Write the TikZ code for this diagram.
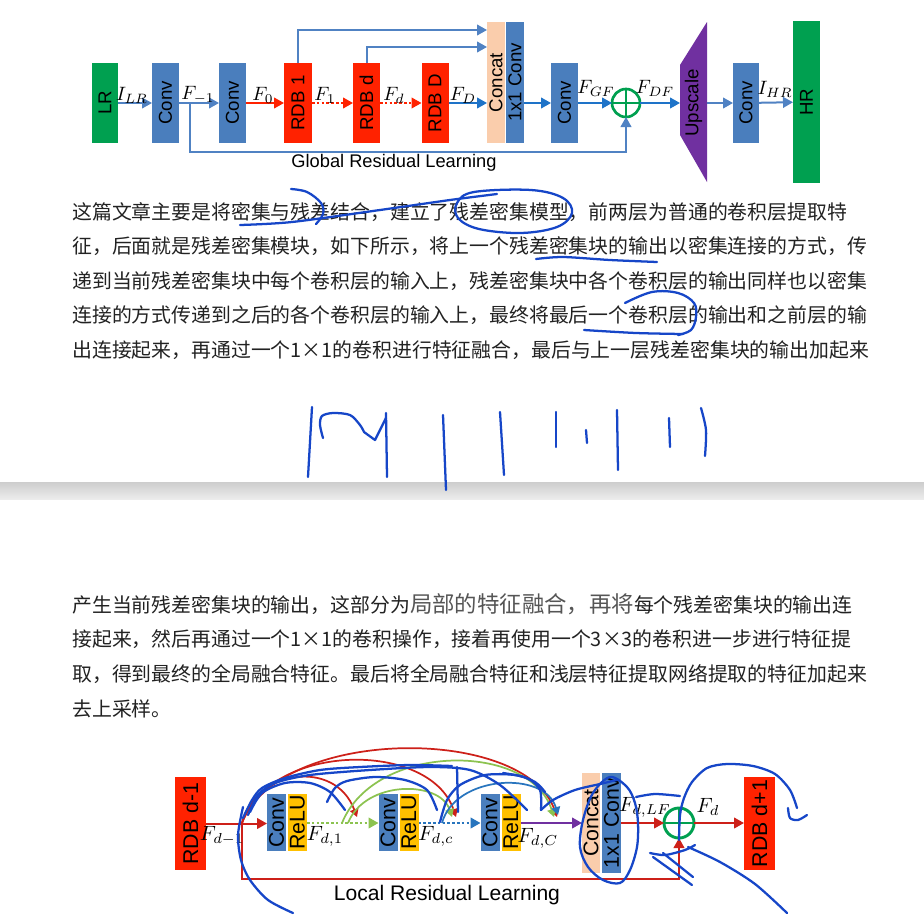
\documentclass[tikz,border=0pt]{standalone}
\usepackage{fontspec}
\usepackage{graphicx}
\setmainfont{Liberation Sans}
\newfontfamily\cjk{Noto Sans CJK SC}
\usetikzlibrary{arrows.meta,calc}
\newdimen\pxu \pxu=0.75pt
\definecolor{boxblue}{RGB}{74,126,189}
\definecolor{arrblue}{RGB}{80,130,195}
\definecolor{brblue}{RGB}{30,115,200}
\definecolor{tred}{RGB}{255,34,0}
\definecolor{bred}{RGB}{205,32,25}
\definecolor{grn}{RGB}{0,160,80}
\definecolor{peach}{RGB}{250,205,172}
\definecolor{purp}{RGB}{112,48,160}
\definecolor{ylw}{RGB}{255,192,0}
\definecolor{lgrn}{RGB}{140,195,80}
\definecolor{dblue}{RGB}{40,117,190}
\definecolor{inkc}{RGB}{22,70,200}
\definecolor{txt}{RGB}{34,34,34}
\definecolor{txtg}{RGB}{85,85,85}
\definecolor{barA}{RGB}{205,205,205}
\definecolor{barB}{RGB}{236,236,236}
\tikzset{
  blk/.style={rectangle, inner sep=0pt, outer sep=0pt, draw=none, text=black},
  sz/.style 2 args={minimum width=#1\pxu, minimum height=#2\pxu},
  arw/.style={-{Triangle[length=7.5pt,width=8pt]}, line width=1.5pt},
  arws/.style={-{Triangle[length=6pt,width=6.5pt]}, line width=1.3pt},
  lbl/.style={inner sep=0pt, scale=1.45},
  lblb/.style={inner sep=0pt, scale=1.55},
  tline/.style={anchor=west, inner sep=0pt, text=txt, font=\cjk\fontsize{14.9}{18}\selectfont},
  inkst/.style={draw=inkc, line width=1.7pt, line cap=round, line join=round},
  dots/.style={dash pattern=on 2pt off 1.6pt},
  tf/.style={font=\fontsize{14}{14}\selectfont},
  bf/.style={font=\fontsize{16}{16}\selectfont}
}
\begin{document}
\begin{tikzpicture}[x=0.75pt,y=-0.75pt]
\fill[white] (0,0) rectangle (924,914);
\path[use as bounding box] (0,0) rectangle (924,914);
% separator bar
\shade[top color=barA, bottom color=barB] (0,482) rectangle (924,499);

% ================= top diagram =================
\node[blk, fill=grn, sz={26}{80}, tf] (lr) at (105,103) {\rotatebox{90}{LR}};
\node[blk, fill=boxblue, sz={27}{80}, tf] (conv1) at (165.5,103) {\rotatebox{90}{Conv}};
\node[blk, fill=boxblue, sz={27}{80}, tf] (conv2) at (232.5,103) {\rotatebox{90}{Conv}};
\node[blk, fill=tred, sz={28}{80}, tf] (rdb1) at (298,103) {\rotatebox{90}{RDB 1}};
\node[blk, fill=tred, sz={27}{80}, tf] (rdbd) at (366.5,103) {\rotatebox{90}{RDB d}};
\node[blk, fill=tred, sz={27}{80}, tf] (rdbD) at (435,103) {\rotatebox{90}{RDB D}};
\node[blk, fill=peach, sz={18}{121}, tf] (concat) at (496,82.5) {\rotatebox{90}{Concat}};
\node[blk, fill=boxblue, sz={18}{121}, tf] (cv11) at (515,82.5) {\rotatebox{90}{1x1 Conv}};
\node[blk, fill=boxblue, sz={27}{80}, tf] (conv3) at (564.5,103) {\rotatebox{90}{Conv}};
\node[circle, draw=grn, line width=2pt, inner sep=0pt, outer sep=0pt, minimum size=28\pxu] (plus) at (626,103) {};
\draw[grn, line width=2pt] (plus.north) -- (plus.south) (plus.west) -- (plus.east);
\fill[purp] (680,65) -- (707,22) -- (707,182) -- (680,135) -- cycle;
\node[blk, tf] (ups) at (693.5,103) {\rotatebox{90}{Upscale}};
\coordinate (upL) at (680,103);
\coordinate (upR) at (707,103);
\node[blk, fill=boxblue, sz={26}{80}, tf] (conv4) at (746,103) {\rotatebox{90}{Conv}};
\node[blk, fill=grn, sz={27}{162}, tf] (hr) at (806.5,102) {\rotatebox{90}{HR}};

\draw[arw, arrblue] (lr) -- (conv1);
\draw[arw, arrblue] (conv1) -- (conv2);
\draw[arw, tred] (conv2) -- (rdb1);
\draw[arw, tred, dots] (rdb1) -- (rdbd);
\draw[arw, tred, dots] (rdbd) -- (rdbD);
\draw[arw, brblue] (rdbD) -- (rdbD -| concat.west);
\draw[arw, brblue] (cv11.east |- conv3) -- (conv3);
\draw[arw, brblue] (conv3) -- (plus);
\draw[arw, brblue] (plus) -- (upL);
\draw[arw, arrblue] (upR) -- (conv4);
\draw[arw, arrblue] (conv4) -- (hr);
\coordinate (gb) at (190,103);
\coordinate (gbl) at (190,152);
\draw[arw, arrblue] (gb) -- (gbl) -| (plus.south);
\coordinate (t1) at (0,30);
\coordinate (t2) at (0,47);
\draw[arw, arrblue] (rdb1.north) |- (concat.west |- t1);
\draw[arw, arrblue] (rdbd.north) |- (concat.west |- t2);

\node[lbl] (l1) at (132,95) {$I_{LR}$};
\node[lbl] (l2) at (198,95) {$F_{-1}$};
\node[lbl] (l3) at (263,95) {$F_0$};
\node[lbl] (l4) at (325,95) {$F_1$};
\node[lbl] (l5) at (394,95) {$F_d$};
\node[lbl] (l6) at (463,95) {$F_D$};
\node[lbl] (l7) at (596,88) {$F_{GF}$};
\node[lbl] (l8) at (655,88) {$F_{DF}$};
\node[lbl] (l9) at (775,89) {$I_{HR}$};
\node[inner sep=0pt, font=\fontsize{13.7}{14}\selectfont] (glob) at (394,163) {Global Residual Learning};

% ================= paragraph 1 =================
\node[tline] (p1) at (72,212) {这篇文章主要是将密集与残差结合，建立了残差密集模型，前两层为普通的卷积层提取特};
\node[tline] (p2) at (72,246.5) {征，后面就是残差密集模块，如下所示，将上一个残差密集块的输出以密集连接的方式，传};
\node[tline] (p3) at (72,281) {递到当前残差密集块中每个卷积层的输入上，残差密集块中各个卷积层的输出同样也以密集};
\node[tline] (p4) at (72,315.5) {连接的方式传递到之后的各个卷积层的输入上，最终将最后一个卷积层的输出和之前层的输};
\node[tline] (p5) at (72,350) {出连接起来，再通过一个1×1的卷积进行特征融合，最后与上一层残差密集块的输出加起来};

% ================= paragraph 2 =================
\node[tline] (q1) at (72,604) {产生当前残差密集块的输出，这部分为{\color{txtg}\fontsize{16.8}{18}\selectfont 局部的特征融合，再将}每个残差密集块的输出连};
\node[tline] (q2) at (72,639) {接起来，然后再通过一个1×1的卷积操作，接着再使用一个3×3的卷积进一步进行特征提};
\node[tline] (q3) at (72,674) {取，得到最终的全局融合特征。最后将全局融合特征和浅层特征提取网络提取的特征加起来};
\node[tline] (q4) at (72,708.5) {去上采样。};

% ================= bottom diagram =================
\node[blk, fill=tred, sz={31}{93}, bf] (rdbm) at (190.5,823.5) {\rotatebox{90}{RDB d-1}};
\node[blk, fill=boxblue, sz={19}{57}, bf] (c1) at (276.5,822.5) {\rotatebox{90}{Conv}};
\node[blk, fill=ylw, sz={19}{57}, bf] (r1) at (297.5,822.5) {\rotatebox{90}{ReLU}};
\node[blk, fill=boxblue, sz={19}{57}, bf] (c2) at (388,822.5) {\rotatebox{90}{Conv}};
\node[blk, fill=ylw, sz={19}{57}, bf] (r2) at (409,822.5) {\rotatebox{90}{ReLU}};
\node[blk, fill=boxblue, sz={19}{57}, bf] (c3) at (490,822.5) {\rotatebox{90}{Conv}};
\node[blk, fill=ylw, sz={19}{57}, bf] (r3) at (511,822.5) {\rotatebox{90}{ReLU}};
\node[blk, fill=peach, sz={18}{100}, bf] (cc2) at (591,823) {\rotatebox{90}{Concat}};
\node[blk, fill=boxblue, sz={19}{100}, bf] (cv2) at (611.5,823) {\rotatebox{90}{1x1 Conv}};
\node[circle, draw=grn, line width=2.2pt, inner sep=0pt, outer sep=0pt, minimum size=30\pxu] (plus2) at (679,823) {};
\draw[grn, line width=2.2pt] (plus2.north) -- (plus2.south) (plus2.west) -- (plus2.east);
\node[blk, fill=tred, sz={31}{93}, bf] (rdbp) at (759.5,823.5) {\rotatebox{90}{RDB d+1}};

\draw[arw, bred] (rdbm) -- (c1.west |- rdbm);
\draw[arw, lgrn, dots] (r1.east |- plus2) -- (c2.west |- plus2);
\draw[arw, dblue, dots] (r2.east |- plus2) -- (c3.west |- plus2);
\draw[arw, purp] (r3.east |- plus2) -- (cc2.west |- plus2);
\draw[arw, bred] (cv2.east |- plus2) -- (plus2);
\draw[arw, bred] (plus2) -- (rdbp.west |- plus2);
\coordinate (lb) at (242,823);
\coordinate (lbb) at (242,879);
\draw[arw, bred] (lb) -- (lbb) -| (plus2.south);

% dense connections
\coordinate (g1) at (342,823);
\coordinate (g2) at (348,823);
\coordinate (b1) at (442,823);
\coordinate (in2) at (357,817);
\coordinate (in3a) at (456,817);
\coordinate (in3b) at (452,817);
\coordinate (inc1) at (557,817);
\coordinate (inc2) at (554,817);
\coordinate (inc3) at (558,815);
\draw[arws, bred] (lb) .. controls (255,770) and (335,758) .. (in2);
\draw[arws, bred] (lb) .. controls (270,742) and (430,740) .. (in3a);
\draw[arws, bred] (lb) .. controls (280,726) and (525,725) .. (inc1);
\draw[arws, lgrn] (g2) .. controls (365,780) and (440,780) .. (in3b);
\draw[arws, lgrn] (g1) .. controls (375,742) and (530,742) .. (inc2);
\draw[arws, dblue] (b1) .. controls (455,775) and (545,770) .. (inc3);

\node[lblb] (m1) at (222,836) {$F_{d-1}$};
\node[lblb] (m2) at (325,836) {$F_{d,1}$};
\node[lblb] (m3) at (436,836) {$F_{d,c}$};
\node[lblb] (m4) at (538,838) {$F_{d,C}$};
\node[lblb] (m5) at (645,807) {$F_{d,LF}$};
\node[lblb] (m6) at (708,807) {$F_d$};
\node[inner sep=0pt, font=\fontsize{15.8}{16}\selectfont] (loc) at (447,895) {Local Residual Learning};

% ================= hand-drawn ink =================
% paragraph 1
\draw[inkst] plot[smooth, tension=0.6] coordinates {(291,189) (307,192) (321,203) (323,214) (316,224)};
\draw[inkst] plot[smooth, tension=0.5] coordinates {(240,225) (292,222) (380,210) (450,200) (497,194)};
\draw[inkst] plot[smooth cycle, tension=0.6] coordinates {(474,192) (531,190) (563,198) (572,213) (557,227) (521,233) (479,229) (458,218) (457,203)};
\draw[inkst] plot[smooth, tension=0.5] coordinates {(536,259) (563,257) (610,260) (657,262)};
\draw[inkst] plot[smooth, tension=0.6] coordinates {(625,303) (652,292) (678,293) (694,303) (696,317) (691,330) (678,335)};
\draw[inkst] plot[smooth, tension=0.5] coordinates {(584,330) (636,333) (683,334)};
% vertical strokes
\draw[inkst] (312,407) -- (308,477);
\draw[inkst] plot[smooth, tension=0.5] coordinates {(323,438) (320,425) (322,416) (333,413) (350,415) (360,425) (364,432)};
\draw[inkst] (364,432) -- (375,440) -- (386,418);
\draw[inkst] (386,413) -- (387,477);
\draw[inkst] (443,415) -- (446,490);
\draw[inkst] (500,412) -- (504,475);
\draw[inkst] (556,412) -- (556,447);
\draw[inkst] (586,430) -- (587,443);
\draw[inkst] (617,410) -- (618,470);
\draw[inkst] (669,418) -- (670,447);
\draw[inkst] plot[smooth, tension=0.5] coordinates {(701,408) (706,430) (705,456)};
% bottom diagram
\draw[inkst] plot[smooth, tension=0.5] coordinates {(243,818) (252,800) (262,788) (285,778) (320,770) (360,767) (410,765) (452,766)};
\draw[inkst] (457,767) -- (458,812);
\draw[inkst] plot[smooth, tension=0.5] coordinates {(248,815) (258,795) (275,783) (310,775) (370,770) (430,767) (470,770) (500,785) (527,810)};
\draw[inkst] plot[smooth, tension=0.5] coordinates {(250,812) (262,793) (285,783) (310,783) (330,792) (345,810)};
\draw[inkst] plot[smooth, tension=0.5] coordinates {(327,802) (335,788) (347,781) (375,777) (405,780) (427,790) (437,810)};
\draw[inkst] plot[smooth, tension=0.5] coordinates {(440,822) (447,800) (460,785) (485,775) (515,775) (535,782) (545,792)};
\draw[inkst] plot[smooth, tension=0.5] coordinates {(243,807) (238,835) (241,860) (250,880) (268,900) (293,913)};
\draw[inkst] plot[smooth, tension=0.5] coordinates {(503,773) (527,778) (540,790) (541,810)};
\draw[inkst] plot[smooth, tension=0.5] coordinates {(541,810) (553,800) (575,790) (600,784) (617,780)};
\draw[inkst] plot[smooth cycle, tension=0.55] coordinates {(610,777) (593,793) (583,820) (580,847) (588,867) (603,880) (620,883) (630,870) (637,847) (638,823) (635,803) (627,787)};
\draw[inkst] plot[smooth, tension=0.5] coordinates {(636,797) (655,794) (680,796)};
\draw[inkst] plot[smooth, tension=0.5] coordinates {(679,840) (680,815) (684,798) (692,782) (707,768) (727,764) (753,766) (775,774) (790,790) (797,808)};
\draw[inkst] plot[smooth, tension=0.5] coordinates {(788,808) (790,818) (798,820) (807,815)};
\draw[inkst] plot[smooth, tension=0.5] coordinates {(650,853) (665,855) (685,850) (695,845)};
\draw[inkst] (663,853) -- (693,877);
\draw[inkst] (653,857) -- (692,885);
\draw[inkst] plot[smooth, tension=0.5] coordinates {(688,847) (720,862) (755,884) (787,913)};
\end{tikzpicture}
\end{document}
